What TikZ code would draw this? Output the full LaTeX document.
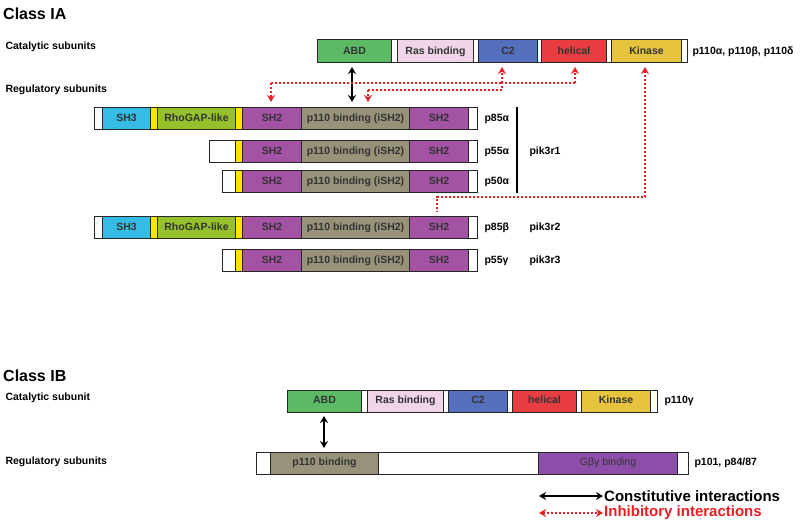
\documentclass[tikz,border=0pt]{standalone}
\usepackage{fontspec}
\setmainfont{Liberation Sans}
\usetikzlibrary{arrows.meta}
\definecolor{cABD}{RGB}{92,186,100}
\definecolor{cRas}{RGB}{240,212,232}
\definecolor{cC2}{RGB}{84,112,188}
\definecolor{cHel}{RGB}{232,62,66}
\definecolor{cKin}{RGB}{230,196,62}
\definecolor{cSH3}{RGB}{52,188,228}
\definecolor{cYel}{RGB}{255,228,0}
\definecolor{cRho}{RGB}{150,192,44}
\definecolor{cSH2}{RGB}{164,82,164}
\definecolor{cISH}{RGB}{152,146,122}
\definecolor{cGbg}{RGB}{140,78,168}
\definecolor{cRed}{RGB}{235,30,35}
\tikzset{seg/.style={draw=black!85,line width=1pt,anchor=west,inner sep=0pt,text height=7.5pt,text depth=2pt,font=\bfseries\fontsize{10.5}{11}\selectfont,text=black!80},
 lab/.style={anchor=west,font=\bfseries\fontsize{10.5}{11}\selectfont},
 head/.style={anchor=west,font=\bfseries\fontsize{10.5}{11}\selectfont},
 cons/.style={line width=1.8pt,{Stealth[length=7pt,width=8pt]}-{Stealth[length=7pt,width=8pt]}},
 inh/.style={cRed,line width=2.2pt,dash pattern=on 2pt off 2pt,{Stealth[length=7pt,width=8pt]}-{Stealth[length=7pt,width=8pt]}},
 inhl/.style={cRed,line width=2.2pt,dash pattern=on 2pt off 2pt},
 inhe/.style={inhl,-{Stealth[length=7pt,width=8pt]}},
 inhs/.style={inhl,{Stealth[length=7pt,width=8pt]}-}}
\newcommand{\sg}[7]{\node[seg,fill=#6,minimum width={(#3-#2)*1pt},minimum height=#5pt] (#1) at (#2,#4) {#7};}
\newcommand{\pRow}[3]{%
 \sg{#1w}{#3}{235}{#2}{22}{white}{}
 \sg{#1y}{235}{242}{#2}{22}{cYel}{}
 \sg{#1a}{242}{301}{#2}{22}{cSH2}{SH2}
 \sg{#1b}{301}{409}{#2}{22}{cISH}{p110 binding (iSH2)}
 \sg{#1c}{409}{468}{#2}{22}{cSH2}{SH2}
 \sg{#1e}{468}{477}{#2}{22}{white}{}}
\newcommand{\pFull}[2]{%
 \sg{#1w0}{94}{102}{#2}{22}{white}{}
 \sg{#1s}{102}{150}{#2}{22}{cSH3}{SH3}
 \sg{#1y0}{150}{157}{#2}{22}{cYel}{}
 \sg{#1r}{157}{235}{#2}{22}{cRho}{RhoGAP-like}
 \sg{#1y}{235}{242}{#2}{22}{cYel}{}
 \sg{#1a}{242}{301}{#2}{22}{cSH2}{SH2}
 \sg{#1b}{301}{409}{#2}{22}{cISH}{p110 binding (iSH2)}
 \sg{#1c}{409}{468}{#2}{22}{cSH2}{SH2}
 \sg{#1e}{468}{477}{#2}{22}{white}{}}
\begin{document}
\begin{tikzpicture}[x=1pt,y=-1pt]
\useasboundingbox[fill=white] (0,0) rectangle (800,527);
\node[anchor=west,inner sep=0pt,font=\bfseries\fontsize{16}{17}\selectfont] (t1) at (3,14) {Class IA};
\node[head] (h1) at (2,47) {Catalytic subunits};
\node[head] (h2) at (2,90) {Regulatory subunits};
\sg{abd}{317}{391}{51.5}{23}{cABD}{ABD}
\sg{w1}{391}{397}{51.5}{23}{white}{}
\sg{ras}{397}{473}{51.5}{23}{cRas}{Ras binding}
\sg{w2}{473}{478}{51.5}{23}{white}{}
\sg{c2}{478}{537}{51.5}{23}{cC2}{C2}
\sg{w3}{537}{541}{51.5}{23}{white}{}
\sg{hel}{541}{606}{51.5}{23}{cHel}{helical}
\sg{w4}{606}{611}{51.5}{23}{white}{}
\sg{kin}{611}{681}{51.5}{23}{cKin}{Kinase}
\sg{w5}{681}{687}{51.5}{23}{white}{}
\node[lab] (l110) at (689,51.5) {p110α, p110β, p110δ};
\pFull{A}{118.5}
\pRow{B}{151.5}{209}
\pRow{C}{181.5}{222}
\pFull{D}{227.5}
\pRow{E}{260.5}{222}
\node[lab] (lA) at (481,118.5) {p85α};
\node[lab] (lB) at (481,151.5) {p55α};
\node[lab] (lC) at (481,181.5) {p50α};
\node[lab] (lD) at (481,227.5) {p85β};
\node[lab] (lE) at (481,260.5) {p55γ};
\coordinate (bt) at (517,107);
\coordinate (bb) at (517,193);
\draw[line width=1.8pt] (bt) -- (bb);
\node[lab] (g1) at (526,151.5) {pik3r1};
\node[lab] (g2) at (526,227.5) {pik3r2};
\node[lab] (g3) at (526,260.5) {pik3r3};
\coordinate (ca) at (352,67);
\coordinate (cb) at (352,102);
\draw[cons] (ca) -- (cb);
\coordinate (p1) at (271,102);
\coordinate (p2) at (368,102);
\coordinate (p3) at (437,212);
\draw[inhe] (271,83) -- (p1);
\draw[inhl] (271,83) -- (502,83);
\draw[inhe] (502,83) -- (502,67);
\draw[inhe] (368,90) -- (p2);
\draw[inhl] (368,90) -- (502,90) -- (502,83) -- (575,83);
\draw[inhe] (575,83) -- (575,67);
\draw[inhs] (645,67) -- (645,197) -- (437,197) -- (p3);
\node[anchor=west,inner sep=0pt,font=\bfseries\fontsize{16}{17}\selectfont] (t2) at (3,376) {Class IB};
\node[head] (h3) at (2,398) {Catalytic subunit};
\node[head] (h4) at (2,462) {Regulatory subunits};
\sg{gabd}{287}{361}{401}{22}{cABD}{ABD}
\sg{gw1}{361}{367}{401}{22}{white}{}
\sg{gras}{367}{443}{401}{22}{cRas}{Ras binding}
\sg{gw2}{443}{448}{401}{22}{white}{}
\sg{gc2}{448}{507}{401}{22}{cC2}{C2}
\sg{gw3}{507}{512}{401}{22}{white}{}
\sg{ghel}{512}{576}{401}{22}{cHel}{helical}
\sg{gw4}{576}{581}{401}{22}{white}{}
\sg{gkin}{581}{650}{401}{22}{cKin}{Kinase}
\sg{gw5}{650}{657}{401}{22}{white}{}
\node[lab] (l110g) at (661,401) {p110γ};
\sg{rw1}{256}{270}{463}{22}{white}{}
\sg{rp}{270}{378}{463}{22}{cISH}{p110 binding}
\sg{rw2}{378}{538}{463}{22}{white}{}
\sg{rg}{538}{677}{463}{22}{cGbg}{\mdseries Gβγ binding}
\sg{rw3}{677}{688}{463}{22}{white}{}
\node[lab] (l101) at (691,463) {p101, p84/87};
\coordinate (ga) at (324,416);
\coordinate (gb) at (324,448);
\draw[cons] (ga) -- (gb);
\coordinate (k1) at (539,496);
\coordinate (k2) at (603,496);
\draw[cons] (k1) -- (k2);
\node[anchor=west,inner sep=1pt,font=\bfseries\fontsize{15}{16}\selectfont] (kt1) at (603,496) {Constitutive interactions};
\coordinate (k3) at (539,513);
\coordinate (k4) at (603,513);
\draw[inh] (k3) -- (k4);
\node[anchor=west,inner sep=1pt,text=cRed,font=\bfseries\fontsize{15}{16}\selectfont] (kt2) at (603,513) {Inhibitory interactions};
\end{tikzpicture}
\end{document}
